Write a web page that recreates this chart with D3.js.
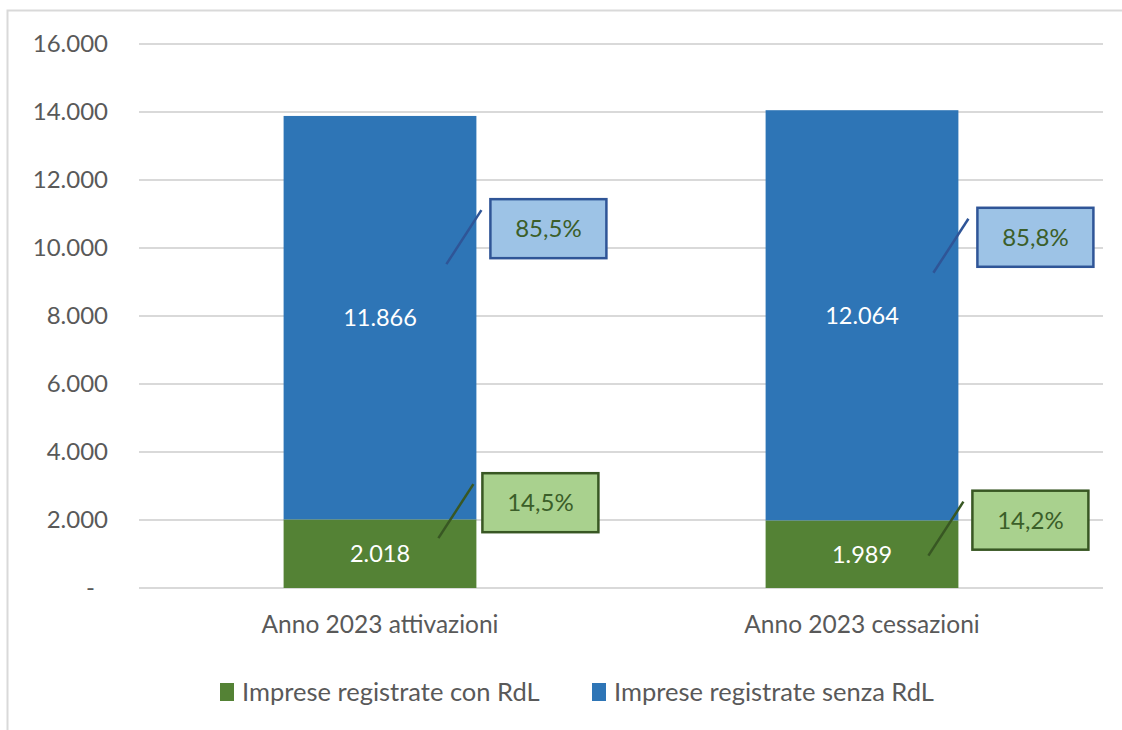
<!DOCTYPE html>
<html lang="it">
<head>
	<meta charset="UTF-8">
	<title>Imprese registrate 2023</title>
	<script src="https://d3js.org/d3.v7.min.js"></script>
	<style>
		body { margin: 0; background: #fff; }
		svg { display: block; }
		text { font-family: Lato, "Open Sans", sans-serif; }
	</style>
</head>
<body>
<div id="chart"></div>
<script>
	// Data
	const categories = ["Anno 2023 attivazioni", "Anno 2023 cessazioni"];
	const seriesNames = ["Imprese registrate con RdL", "Imprese registrate senza RdL"];
	const conRdL = [2018, 1989];
	const senzaRdL = [11866, 12064];
	const pctCon = ["14,5%", "14,2%"];
	const pctSenza = ["85,5%", "85,8%"];
	const yTicks = [0, 2000, 4000, 6000, 8000, 10000, 12000, 14000, 16000];

	const colors = {
		con: "#548235",
		senza: "#2e75b6",
		grid: "#d9d9d9",
		text: "#595959"
	};

	// callout boxes: offset from bar right edge (dx) and from segment centre (dy)
	const calloutCon = [{ dx: 6, dy: -51 }, { dx: 14, dy: -34 }];
	const calloutSenza = [{ dx: 14, dy: -89 }, { dx: 19, dy: -78 }];

	const sizeX = 1122, sizeY = 730;
	const margin = { top: 44, right: 19, bottom: 142, left: 139 };
	const width = sizeX - margin.left - margin.right;
	const height = sizeY - margin.top - margin.bottom;

	const it = d3.formatLocale({ decimal: ",", thousands: ".", grouping: [3], currency: ["€", ""] });
	const fmt = it.format(",d");

	const svg = d3.create("svg")
		.attr("width", sizeX)
		.attr("height", sizeY);

	// chart frame
	svg.append("rect")
		.attr("x", 7.5).attr("y", 10.5)
		.attr("width", sizeX + 20).attr("height", sizeY + 20)
		.attr("fill", "none")
		.attr("stroke", colors.grid)
		.attr("stroke-width", 2);

	const g = svg.append("g").attr("transform", `translate(${margin.left},${margin.top})`);

	const x = d3.scaleBand()
		.domain(categories)
		.range([0, width])
		.paddingInner(0.6)
		.paddingOuter(0.3);

	const y = d3.scaleLinear()
		.domain([0, 16000])
		.range([height, 0]);

	// gridlines
	g.selectAll(".grid")
		.data(yTicks)
		.join("line")
		.attr("x1", 0).attr("x2", width)
		.attr("y1", d => y(d)).attr("y2", d => y(d))
		.attr("stroke", colors.grid)
		.attr("stroke-width", 2);

	// y axis labels
	const yAxis = d3.axisLeft(y)
		.tickValues(yTicks)
		.tickSize(0)
		.tickPadding(31)
		.tickFormat(d => d === 0 ? "-" : fmt(d));
	g.append("g").call(yAxis)
		.call(s => s.select(".domain").remove())
		.selectAll("text")
		.attr("font-family", "Lato, sans-serif")
		.attr("font-size", 24)
		.attr("fill", colors.text)
		.attr("dx", d => d === 0 ? -13 : 0);

	// stacked bars
	const rows = categories.map((c, i) => ({ cat: c, con: conRdL[i], senza: senzaRdL[i] }));
	const stack = d3.stack().keys(["con", "senza"])(rows);

	const layers = g.selectAll(".layer")
		.data(stack)
		.join("g")
		.attr("fill", d => colors[d.key]);

	layers.selectAll("rect")
		.data(d => d)
		.join("rect")
		.attr("x", d => x(d.data.cat))
		.attr("y", d => y(d[1]))
		.attr("width", x.bandwidth())
		.attr("height", d => y(d[0]) - y(d[1]));

	// value labels
	layers.selectAll(".val")
		.data(d => d)
		.join("text")
		.attr("x", d => x(d.data.cat) + x.bandwidth() / 2)
		.attr("y", d => (y(d[0]) + y(d[1])) / 2)
		.attr("dy", "0.36em")
		.attr("text-anchor", "middle")
		.attr("font-size", 23.5)
		.attr("fill", "#fff")
		.text(d => fmt(d[1] - d[0]));

	// percentage callouts
	const boxW = 116, boxH = 59;
	const callouts = [];
	stack.forEach(layer => {
		const pcts = layer.key === "con" ? pctCon : pctSenza;
		const offs = layer.key === "con" ? calloutCon : calloutSenza;
		layer.forEach((d, i) => {
			const cy = (y(d[0]) + y(d[1])) / 2 + offs[i].dy;
			const bx = x(d.data.cat) + x.bandwidth() + offs[i].dx;
			callouts.push({
				key: layer.key, label: pcts[i],
				bx: bx, by: cy - boxH / 2
			});
		});
	});

	const calloutStyle = {
		con: { fill: "#a9d18e", stroke: "#385723" },
		senza: { fill: "#9dc3e6", stroke: "#2f5597" }
	};

	const cg = g.selectAll(".callout")
		.data(callouts)
		.join("g");

	cg.append("line")
		.attr("x1", d => d.bx - 44)
		.attr("y1", d => d.by + 65)
		.attr("x2", d => d.bx - 9)
		.attr("y2", d => d.by + 11)
		.attr("stroke", d => calloutStyle[d.key].stroke)
		.attr("stroke-width", 2.5);

	cg.append("rect")
		.attr("x", d => d.bx)
		.attr("y", d => d.by)
		.attr("width", boxW)
		.attr("height", boxH)
		.attr("fill", d => calloutStyle[d.key].fill)
		.attr("stroke", d => calloutStyle[d.key].stroke)
		.attr("stroke-width", 2.5);

	cg.append("text")
		.attr("x", d => d.bx + boxW / 2)
		.attr("y", d => d.by + boxH / 2)
		.attr("dy", "0.36em")
		.attr("text-anchor", "middle")
		.attr("font-size", 24)
		.attr("fill", "#3b5e29")
		.text(d => d.label);

	// category labels
	g.append("g")
		.attr("transform", `translate(0,${height})`)
		.call(d3.axisBottom(x).tickSize(0).tickPadding(28))
		.call(s => s.select(".domain").remove())
		.selectAll("text")
		.attr("font-family", "Lato, sans-serif")
		.attr("font-size", 24.5)
		.attr("fill", colors.text);

	// legend
	const legendItems = [
		{ name: seriesNames[0], color: colors.con, x: 220 },
		{ name: seriesNames[1], color: colors.senza, x: 592 }
	];
	const lg = svg.append("g").attr("transform", "translate(0,683)");
	const li = lg.selectAll("g")
		.data(legendItems)
		.join("g")
		.attr("transform", d => `translate(${d.x},0)`);
	li.append("rect")
		.attr("width", 14).attr("height", 18)
		.attr("fill", d => d.color);
	li.append("text")
		.attr("x", 22)
		.attr("y", 9)
		.attr("dy", "0.36em")
		.attr("font-size", 25.5)
		.attr("fill", colors.text)
		.text(d => d.name);

	document.getElementById("chart").append(svg.node());
</script>
</body>
</html>
